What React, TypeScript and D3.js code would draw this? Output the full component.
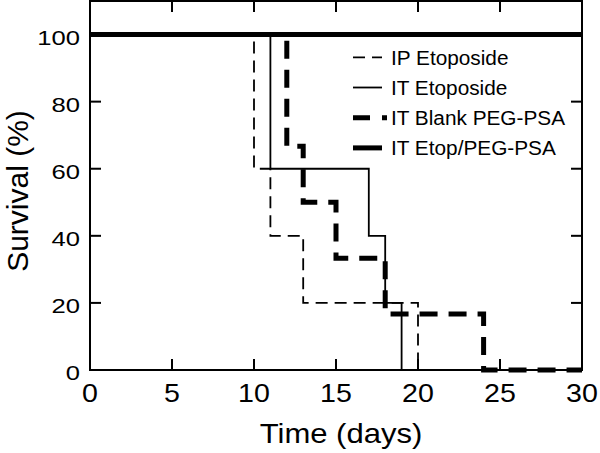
import React from "react";
import * as d3 from "d3";

// ---- data ----
const seriesNames = ["IP Etoposide", "IT Etoposide", "IT Blank PEG-PSA", "IT Etop/PEG-PSA"];
// step points: time (days) at which survival changes, and survival (%) from that time on
const ipTimes = [0, 10, 11, 13, 20, 30];
const ipSurv = [100, 60, 40, 20, 0, 0];
const itTimes = [0, 11, 17, 18, 19, 30];
const itSurv = [100, 60, 40, 20, 0, 0];
const blankTimes = [0, 12, 13, 15, 18, 24, 30];
const blankSurv = [100, 66.7, 50, 33.3, 16.7, 0, 0];
const etopTimes = [0, 30];
const etopSurv = [100, 100];

const xTicks = [0, 5, 10, 15, 20, 25, 30];
const yTicks = [0, 20, 40, 60, 80, 100];

const styles = [
  { width: 1.8, dash: "12,7" },
  { width: 1.8, dash: "none" },
  { width: 5, dash: "18,11" },
  { width: 5, dash: "none" },
];

const W = 600;
const H = 453;
const left = 90;
const right = 582;
const top = 1;
const bottom = 370;

export default function App() {
  const x = d3.scaleLinear().domain([0, 30]).range([left, right]);
  const y = d3.scaleLinear().domain([0, 110]).range([bottom, top]);
  const line = d3
    .line<[number, number]>()
    .x((d) => x(d[0]))
    .y((d) => y(d[1]))
    .curve(d3.curveStepAfter);

  const series = [
    { t: ipTimes, s: ipSurv },
    { t: itTimes, s: itSurv },
    { t: blankTimes, s: blankSurv },
    { t: etopTimes, s: etopSurv },
  ];

  const font = "'Liberation Sans', Arial, Helvetica, sans-serif";
  const tickLen = 11;

  return (
    <svg
      width={W}
      height={H}
      style={{ position: "absolute", left: 0, top: 0, background: "#fff" }}
      fontFamily={font}
    >
      <rect x={0} y={0} width={W} height={H} fill="#fff" />
      {/* series */}
      {series.map((sr, i) => (
        <path
          key={i}
          d={line(sr.t.map((t, j) => [t, sr.s[j]] as [number, number])) || ""}
          fill="none"
          stroke="#000"
          strokeWidth={styles[i].width}
          strokeDasharray={styles[i].dash}
          strokeLinejoin="miter"
          strokeLinecap="butt"
        />
      ))}
      {/* frame */}
      <rect
        x={left}
        y={top}
        width={right - left}
        height={bottom - top}
        fill="none"
        stroke="#000"
        strokeWidth={2}
      />
      {/* x ticks bottom & top */}
      {xTicks.slice(1, -1).map((t) => (
        <g key={"xt" + t}>
          <line x1={x(t)} x2={x(t)} y1={bottom} y2={bottom - tickLen} stroke="#000" strokeWidth={2} />
          <line x1={x(t)} x2={x(t)} y1={top} y2={top + tickLen} stroke="#000" strokeWidth={2} />
        </g>
      ))}
      {/* y ticks left & right */}
      {yTicks.slice(1, -1).map((t) => (
        <g key={"yt" + t}>
          <line x1={left} x2={left + tickLen} y1={y(t)} y2={y(t)} stroke="#000" strokeWidth={2} />
          <line x1={right} x2={right - tickLen} y1={y(t)} y2={y(t)} stroke="#000" strokeWidth={2} />
        </g>
      ))}
      {/* x tick labels */}
      {xTicks.map((t) => (
        <text
          key={"xl" + t}
          transform={`translate(${x(t)},402) scale(1.1,1)`}
          textAnchor="middle"
          fontSize={26}
        >
          {t}
        </text>
      ))}
      {/* y tick labels */}
      {yTicks.map((t) => (
        <text
          key={"yl" + t}
          transform={`translate(80,${y(t) + 10}) scale(1.22,1)`}
          textAnchor="end"
          fontSize={21}
        >
          {t}
        </text>
      ))}
      {/* axis titles */}
      <text transform={`translate(341,443) scale(1.15,1)`} textAnchor="middle" fontSize={27}>
        Time (days)
      </text>
      <text transform={`translate(28,191) rotate(-90)`} textAnchor="middle" fontSize={30}>
        Survival (%)
      </text>
      {/* legend */}
      {seriesNames.map((name, i) => {
        const ly = 57.3 + i * 30.2;
        return (
          <g key={"lg" + i}>
            <line
              x1={353}
              x2={i === 2 ? 387 : 382}
              y1={ly}
              y2={ly}
              stroke="#000"
              strokeWidth={styles[i].width}
              strokeDasharray={i === 0 ? "12,7" : i === 2 ? "17,12" : "none"}
            />
            <text transform={`translate(391,${ly + 7.5}) scale(1.04,1)`} fontSize={20}>
              {name}
            </text>
          </g>
        );
      })}
    </svg>
  );
}
